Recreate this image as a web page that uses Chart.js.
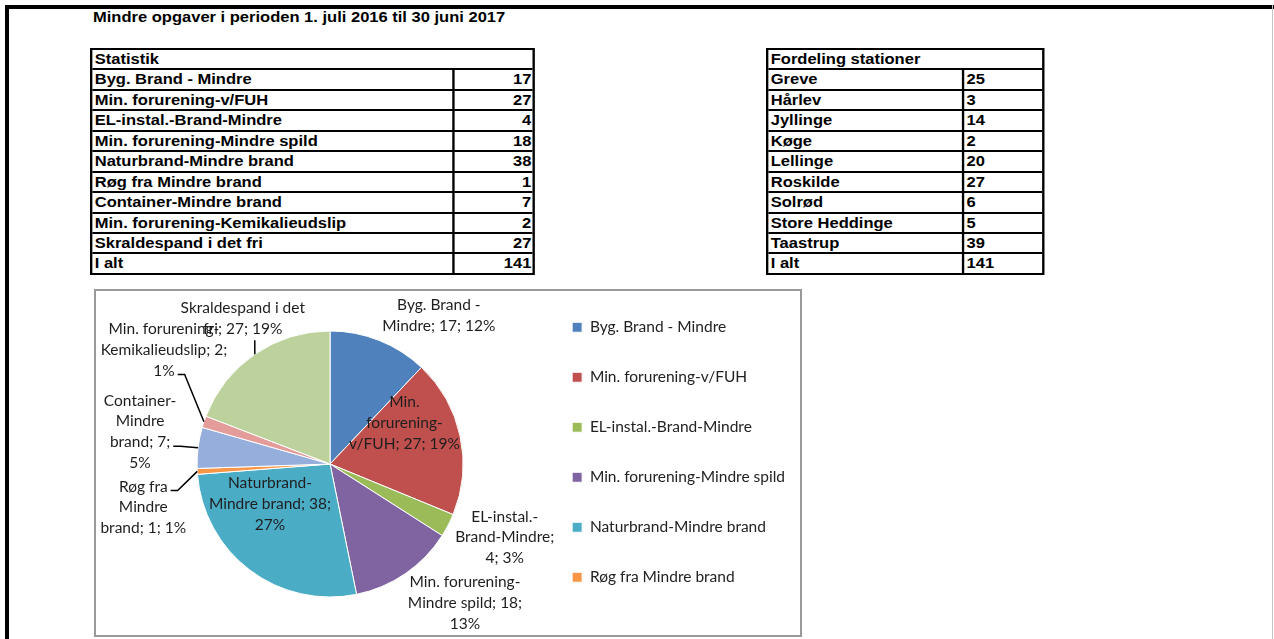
<!DOCTYPE html>
<html><head><meta charset="utf-8">
<script src="https://cdn.jsdelivr.net/npm/chart.js@4.4.0/dist/chart.umd.min.js"></script>
<style>
html,body{margin:0;padding:0;width:1274px;height:639px;overflow:hidden;background:#fff;}
.abs{position:absolute;}
#frame{left:5px;top:5px;width:1269px;height:640px;border-top:4px solid #000;border-left:4px solid #000;box-sizing:border-box;}
#rline{left:1272px;top:5px;width:1px;height:634px;background:#c4c4c4;}
.sx{transform:scaleX(1.18);transform-origin:0 0;font-family:"Liberation Sans",Arial,sans-serif;font-weight:bold;font-size:14px;color:#000;}
#title{left:93px;top:9px;line-height:16px;white-space:nowrap;}
.tbl{border:2px solid #000;box-sizing:border-box;}
.row{display:flex;height:20.45px;box-sizing:border-box;border-top:2px solid #000;line-height:18px;white-space:nowrap;}
.row.first{border-top:none;height:18.45px;}
.c1{box-sizing:border-box;border-right:2px solid #000;padding-left:2px;overflow:hidden;}
.c2{flex:1;padding:0 1px 0 2px;}
.num{text-align:right;}
.head{padding-left:2px;}
#chartbox{left:94px;top:289px;width:708px;height:348px;border:2px solid #999;box-sizing:border-box;}
#chartwrap{left:95px;top:285px;}
</style>
</head><body>
<div id="frame" class="abs"></div>
<div id="rline" class="abs"></div>
<div id="title" class="abs sx"></div>
<div id="tblStats" class="abs sx tbl" style="left:90px;top:48px;width:377px;"></div>
<div id="tblStations" class="abs sx tbl" style="left:766px;top:48px;width:236px;"></div>
<div id="chartbox" class="abs"></div>
<div id="chartwrap" class="abs"><canvas id="c"></canvas></div>
<script>
// ---------- data ----------
const pageTitle = 'Mindre opgaver i perioden 1. juli 2016 til 30 juni 2017';
const statsTitle = 'Statistik';
const stationsTitle = 'Fordeling stationer';
const totalLabel = 'I alt';
const categories = ['Byg. Brand - Mindre','Min. forurening-v/FUH','EL-instal.-Brand-Mindre','Min. forurening-Mindre spild','Naturbrand-Mindre brand','Røg fra Mindre brand','Container-Mindre brand','Min. forurening-Kemikalieudslip','Skraldespand i det fri'];
const counts = [17,27,4,18,38,1,7,2,27];
const stations = ['Greve','Hårlev','Jyllinge','Køge','Lellinge','Roskilde','Solrød','Store Heddinge','Taastrup'];
const stationCounts = [25,3,14,2,20,27,6,5,39];

// ---------- styles ----------
const sliceColors = ['#4F81BD','#C0504D','#9BBB59','#8064A2','#4BACC6','#F79646','#95AEDB','#E39C9A','#BCD19B'];
const legendShownCount = 6;
const LABEL_FONT_FAMILY = 'Lato';
const LABEL_FONT_SIZE = 15.5;
const LH = 20.8;
// tokens per line for each data label
const labelBreaks = [[3,3],[1,1,3],[2,2,2],[2,3,1],[1,3,1],[2,1,3],[1,1,2,1],[2,2,1],[3,3]];
const labelStyle = [
  {mode:'out', k:1.06, off:[0,2]},
  {mode:'in',  k:0.68, off:[-14,-22]},
  {mode:'out', k:1.06, off:[0,-6]},
  {mode:'out', k:1.06, off:[-2,-3]},
  {mode:'in',  k:0.5,  off:[-20,-13]},
  {mode:'lead',k:1,    off:[-54,36],  lead:{side:'right', line:0}},
  {mode:'lead',k:1,    off:[-58,-16], lead:{side:'right', line:2}},
  {mode:'lead',k:1,    off:[-40,-72], lead:{side:'right', line:2}},
  {mode:'lead',k:1,    off:[-12,-36], lead:{side:'bottom'}}
];

// ---------- title & tables ----------
document.getElementById('title').textContent = pageTitle;
function buildTable(el, title, names, vals, c1w, numRight){
  const sum = vals.reduce((a,b)=>a+b,0);
  let html = '<div class="row first"><div class="head">'+title+'</div></div>';
  const rows = names.map((n,i)=>[n, vals[i]]).concat([[totalLabel, sum]]);
  rows.forEach(r=>{
    html += '<div class="row"><div class="c1" style="width:'+c1w+'px">'+r[0]+'</div><div class="c2'+(numRight?' num':'')+'">'+r[1]+'</div></div>';
  });
  el.innerHTML = html;
}
buildTable(document.getElementById('tblStats'), statsTitle, categories, counts, 307, true);
buildTable(document.getElementById('tblStations'), stationsTitle, stations, stationCounts, 166, false);

// ---------- chart ----------
const legendFont = {family: LABEL_FONT_FAMILY, size: LABEL_FONT_SIZE};
const legendPad = 50 - LABEL_FONT_SIZE;
const mctx = document.createElement('canvas').getContext('2d');
mctx.font = LABEL_FONT_SIZE + 'px ' + LABEL_FONT_FAMILY;
const maxLegendW = Math.max(...categories.slice(0, legendShownCount).map(s=>mctx.measureText(s).width));
const legendBoxX = 477; // legend square x inside the canvas
const canvasW = Math.ceil(legendBoxX + 10 + LABEL_FONT_SIZE/2 + maxLegendW + 10);
const canvasH = 358;
const cv = document.getElementById('c');
cv.width = canvasW; cv.height = canvasH;
cv.style.width = canvasW+'px'; cv.style.height = canvasH+'px';
const padLeft = 2*235 - (legendBoxX - legendPad);

const labelPlugin = {
  id: 'pieLabels',
  afterDatasetsDraw(chart){
    const ctx = chart.ctx;
    const meta = chart.getDatasetMeta(0);
    const ds = chart.data.datasets[0];
    const total = ds.data.reduce((a,b)=>a+b,0);
    ctx.save();
    ctx.font = LABEL_FONT_SIZE + 'px ' + LABEL_FONT_FAMILY;
    ctx.fillStyle = '#1e1e1e';
    ctx.textAlign = 'center';
    ctx.textBaseline = 'middle';
    meta.data.forEach((arc, i)=>{
      const p = arc.getProps(['x','y','startAngle','endAngle','outerRadius'], true);
      const a = (p.startAngle + p.endAngle)/2, ca = Math.cos(a), sa = Math.sin(a);
      const R = p.outerRadius;
      const text = chart.data.labels[i] + '; ' + ds.data[i] + '; ' + Math.round(ds.data[i]/total*100) + '%';
      const tokens = text.split(/(?<=\s)|(?<=-)(?=\S)/);
      const lines = []; let t = 0;
      labelBreaks[i].forEach(n=>{ lines.push(tokens.slice(t, t+n).join('').trim()); t += n; });
      const w = Math.max(...lines.map(l=>ctx.measureText(l).width));
      const h = lines.length * LH;
      const st = labelStyle[i];
      const ax = p.x + ca*R*st.k, ay = p.y + sa*R*st.k;
      let cx = ax + st.off[0], cy = ay + st.off[1];
      if (st.mode === 'out'){ cx += Math.sign(ca)*w/2; cy += sa*h/2; }
      lines.forEach((l,j)=>ctx.fillText(l, cx, cy - h/2 + LH*(j+0.5)));
      if (st.lead){
        const ex = p.x + ca*R, ey = p.y + sa*R;
        ctx.beginPath();
        ctx.strokeStyle = '#000';
        ctx.lineWidth = 1.5;
        if (st.lead.side === 'right'){
          const L = st.lead.line;
          const ly = cy - h/2 + LH*(L+0.5);
          const sx = cx + ctx.measureText(lines[L]).width/2 + 3, sy = ly + 4;
          ctx.moveTo(sx, sy); ctx.lineTo(Math.min(sx+7, ex), sy); ctx.lineTo(ex, ey);
        } else {
          ctx.moveTo(ex, cy + h/2 + 1); ctx.lineTo(ex, ey);
        }
        ctx.stroke();
      }
    });
    ctx.restore();
  }
};

new Chart(cv, {
  type: 'pie',
  data: {
    labels: categories,
    datasets: [{
      data: counts,
      backgroundColor: sliceColors,
      borderColor: '#ffffff',
      borderWidth: 1,
      radius: 133
    }]
  },
  options: {
    responsive: false,
    animation: false,
    events: [],
    layout: {padding: {left: padLeft, right: 0, top: 0, bottom: 0}},
    plugins: {
      tooltip: {enabled: false},
      legend: {
        position: 'right',
        align: 'start',
        labels: {
          font: legendFont,
          color: '#222',
          boxWidth: 10,
          boxHeight: 10,
          padding: legendPad,
          filter: (item) => item.index < legendShownCount
        }
      }
    }
  },
  plugins: [labelPlugin]
});
</script>
</body></html>
